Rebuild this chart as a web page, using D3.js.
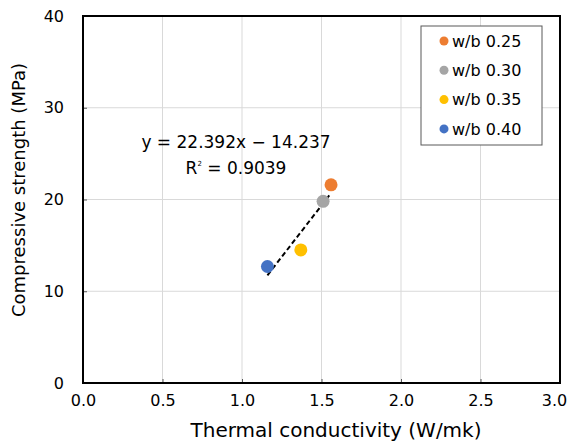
<!DOCTYPE html>
<html>
<head>
<meta charset="utf-8">
<script src="https://cdn.jsdelivr.net/npm/d3@7"></script>
<style>
  html, body { margin: 0; padding: 0; background: #fff; }
  svg { display: block; font-family: "DejaVu Sans", sans-serif; }
</style>
</head>
<body>
<svg id="chart" width="568" height="441"></svg>
<script>
// Mix series: water/binder ratio
const seriesNames = ["w/b 0.25", "w/b 0.30", "w/b 0.35", "w/b 0.40"];
const seriesColors = ["#ed7d31", "#a5a5a5", "#ffc000", "#4472c4"];
// Thermal conductivity (W/mk)
const conductivity = [1.56, 1.51, 1.37, 1.16];
// Compressive strength (MPa)
const strength = [21.6, 19.8, 14.5, 12.7];
// Linear trend
const slope = 22.392;
const intercept = -14.237;
const rSquared = 0.9039;

const xTicks = [0, 0.5, 1.0, 1.5, 2.0, 2.5, 3.0];
const yTicks = [0, 10, 20, 30, 40];

const svg = d3.select("#chart");
const m = { left: 83, right: 8, top: 16, bottom: 58 };
const W = 568, H = 441;

const x = d3.scaleLinear().domain([0, 3]).range([m.left, W - m.right]);
const y = d3.scaleLinear().domain([0, 40]).range([H - m.bottom, m.top]);

// gridlines
svg.append("g").selectAll("line").data(xTicks.slice(1, -1)).join("line")
  .attr("x1", d => x(d)).attr("x2", d => x(d))
  .attr("y1", y(0)).attr("y2", y(40))
  .attr("stroke", "#d9d9d9").attr("stroke-width", 1);
svg.append("g").selectAll("line").data(yTicks.slice(1, -1)).join("line")
  .attr("x1", x(0)).attr("x2", x(3))
  .attr("y1", d => y(d)).attr("y2", d => y(d))
  .attr("stroke", "#d9d9d9").attr("stroke-width", 1);

// axes with inner ticks
const xAxis = d3.axisBottom(x).tickValues(xTicks).tickFormat(d3.format(".1f"))
  .tickSizeInner(-4).tickSizeOuter(0).tickPadding(12);
const yAxis = d3.axisLeft(y).tickValues(yTicks).tickFormat(d3.format("d"))
  .tickSizeInner(-4).tickSizeOuter(0).tickPadding(19);

const gx = svg.append("g").attr("transform", `translate(0,${y(0)})`).call(xAxis);
const gy = svg.append("g").attr("transform", `translate(${x(0)},0)`).call(yAxis);
[gx, gy].forEach(g => {
  g.select(".domain").remove();
  g.selectAll(".tick line").attr("stroke", "#595959").attr("stroke-width", 1);
  g.selectAll(".tick text").attr("fill", "#000")
    .style("font-family", "DejaVu Sans, sans-serif").style("font-size", "16px");
});
// keep the last x label inside the canvas
gx.selectAll(".tick text").filter(d => d === 3).attr("dx", -6);

// plot frame
svg.append("rect")
  .attr("x", x(0)).attr("y", y(40))
  .attr("width", x(3) - x(0)).attr("height", y(0) - y(40))
  .attr("fill", "none").attr("stroke", "#000").attr("stroke-width", 2);

// trend line over the data range
const xMin = d3.min(conductivity), xMax = d3.max(conductivity);
svg.append("line")
  .attr("x1", x(xMin)).attr("y1", y(slope * xMin + intercept))
  .attr("x2", x(xMax)).attr("y2", y(slope * xMax + intercept))
  .attr("stroke", "#000").attr("stroke-width", 2).attr("stroke-dasharray", "5,3");

// points
svg.append("g").selectAll("circle").data(conductivity).join("circle")
  .attr("cx", d => x(d)).attr("cy", (d, i) => y(strength[i]))
  .attr("r", 6.5).attr("fill", (d, i) => seriesColors[i]);

// regression label
svg.append("text").attr("x", 236).attr("y", 148)
  .attr("text-anchor", "middle").style("font-size", "17px").attr("fill", "#000")
  .text(`y = ${slope}x − ${Math.abs(intercept)}`);
const r2 = svg.append("text").attr("x", 236).attr("y", 174)
  .attr("text-anchor", "middle").style("font-size", "17px").attr("fill", "#000");
r2.append("tspan").text("R");
r2.append("tspan").attr("dy", -8).style("font-size", "7px").text("2");
r2.append("tspan").attr("dy", 8).text(` = ${rSquared}`);

// legend
const lg = svg.append("g");
lg.append("rect").attr("x", 421).attr("y", 26).attr("width", 121).attr("height", 119)
  .attr("fill", "#fff").attr("stroke", "#595959").attr("stroke-width", 1);
const rows = lg.selectAll("g").data(seriesNames).join("g")
  .attr("transform", (d, i) => `translate(0,${41 + i * 29.3})`);
rows.append("circle").attr("cx", 444).attr("cy", 0).attr("r", 4.5)
  .attr("fill", (d, i) => seriesColors[i]);
rows.append("text").attr("x", 452).attr("y", 0).attr("dy", "0.36em")
  .style("font-size", "16px").attr("fill", "#000").text(d => d);

// axis titles
svg.append("text").attr("x", 336).attr("y", 437).attr("text-anchor", "middle")
  .style("font-size", "20px").attr("fill", "#000").text("Thermal conductivity (W/mk)");
svg.append("text").attr("transform", `translate(25,190) rotate(-90)`)
  .attr("text-anchor", "middle").style("font-size", "18px").attr("fill", "#000")
  .text("Compressive strength (MPa)");
</script>
</body>
</html>
